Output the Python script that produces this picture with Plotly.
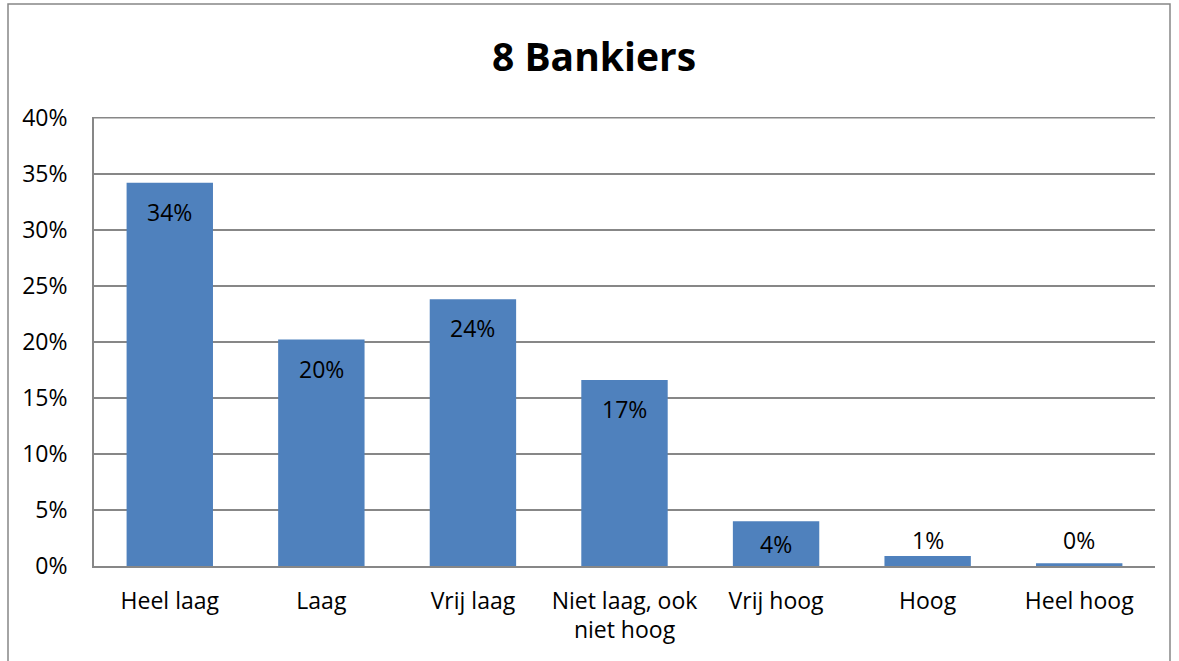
import plotly.graph_objects as go

categories = ["Heel laag", "Laag", "Vrij laag", "Niet laag, ook<br>niet hoog", "Vrij hoog", "Hoog", "Heel hoog"]
values = [34.2, 20.2, 23.8, 16.6, 4.0, 0.9, 0.25]
labels = ["34%", "20%", "24%", "17%", "4%", "1%", "0%"]
y_ticks = [0, 5, 10, 15, 20, 25, 30, 35, 40]
y_tick_text = ["0%", "5%", "10%", "15%", "20%", "25%", "30%", "35%", "40%"]

W, H = 1179, 661
ML, MR, MT, MB = 94, 24, 117, 95
plot_h = H - MT - MB
ppu = plot_h / 40.0
FONT = "Open Sans"
FS = 23
grid = "#878787"

fig = go.Figure(go.Bar(
    x=categories, y=values,
    marker=dict(color="#4F81BD", line=dict(width=0)),
    width=0.57,
    hoverinfo="skip",
))

annotations = []
for c, v, t in zip(categories, values, labels):
    if v >= 2:
        shift = -min(29, v * ppu / 2)
    else:
        shift = max(16, 26 - v * ppu)
    annotations.append(dict(x=c, y=v, text=t, showarrow=False, yanchor="middle",
                            yshift=shift, font=dict(family=FONT, size=FS, color="black")))

fig.update_layout(
    width=W, height=H,
    margin=dict(l=ML, r=MR, t=MT, b=MB),
    paper_bgcolor="white", plot_bgcolor="white",
    title=dict(text="<b>8 Bankiers</b>", x=594 / W, xref="container", xanchor="center",
               y=1 - 57 / H, yanchor="middle",
               font=dict(family=FONT, size=39, color="black")),
    showlegend=False,
    annotations=annotations,
    font=dict(family=FONT, size=FS, color="black"),
    bargap=0.43,
    shapes=[
        dict(type="rect", xref="paper", yref="paper",
             x0=(8 - ML) / (W - ML - MR), x1=(1170 - ML) / (W - ML - MR),
             y0=-0.25, y1=(H - MB - 4) / plot_h,
             line=dict(color="#868686", width=1.5), fillcolor="rgba(0,0,0,0)", layer="below"),
        dict(type="line", xref="paper", yref="y", x0=0, x1=1, y0=max(y_ticks), y1=max(y_ticks),
             line=dict(color=grid, width=1.8), layer="below"),
    ],
)
fig.update_yaxes(range=[0, 40.06], tickvals=y_ticks, ticktext=y_tick_text,
                 showgrid=True, gridcolor=grid, gridwidth=1.8,
                 showline=True, linecolor=grid, linewidth=1.8,
                 zeroline=False, ticks="", ticklabelstandoff=20,
                 tickfont=dict(family=FONT, size=FS, color="black"), fixedrange=True)
fig.update_xaxes(showline=True, linecolor=grid, linewidth=1.8, showgrid=False,
                 ticks="", ticklabelstandoff=13,
                 tickfont=dict(family=FONT, size=FS, color="black"), fixedrange=True)

fig.write_html("out.html", config=dict(displayModeBar=False),
               post_script="document.body.style.margin='0';document.body.style.overflow='hidden';")
